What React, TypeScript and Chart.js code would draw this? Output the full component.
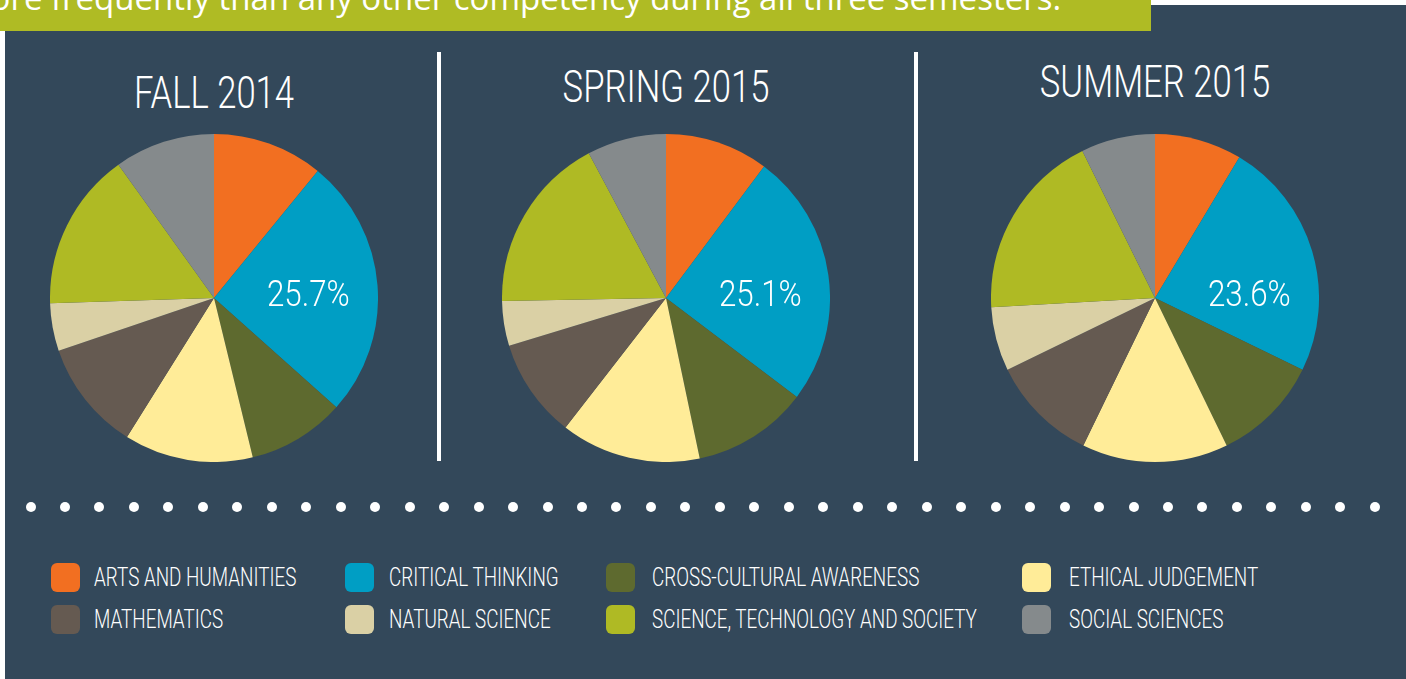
import React, { useEffect, useRef } from "react";
import { Chart, registerables } from "chart.js";

Chart.register(...registerables);

// ---------- data ----------
const categories = [
  "ARTS AND HUMANITIES",
  "CRITICAL THINKING",
  "CROSS-CULTURAL AWARENESS",
  "ETHICAL JUDGEMENT",
  "MATHEMATICS",
  "NATURAL SCIENCE",
  "SCIENCE, TECHNOLOGY AND SOCIETY",
  "SOCIAL SCIENCES",
];
const fall2014 = [10.9, 25.7, 9.6, 12.7, 10.9, 4.7, 15.6, 9.9];
const spring2015 = [10.2, 25.1, 11.4, 13.8, 9.8, 4.4, 17.5, 7.8];
const summer2015 = [8.6, 23.6, 10.6, 14.4, 10.6, 6.3, 18.6, 7.3];
const semesterTitles = ["FALL 2014", "SPRING 2015", "SUMMER 2015"];
const headline = "more frequently than any other competency during all three semesters.";
const labelIndex = 1; // critical thinking share is printed on the pie

// ---------- styles ----------
const colors = [
  "#F26F21",
  "#009EC4",
  "#5E6A2F",
  "#FFEC98",
  "#655A51",
  "#DAD0A5",
  "#AFBA24",
  "#858A8C",
];
const BG = "#33485A";
const BANNER = "#AFBB24";
const NARROW = 'Roboto, "DejaVu Sans Condensed", sans-serif';

const pieCenters = [
  { cx: 214, cy: 298 },
  { cx: 666, cy: 298 },
  { cx: 1155, cy: 298 },
];
const titleBaselines = [107.7, 101.7, 96.7];
const RADIUS = 164;

const labelPlugin = {
  id: "critLabel",
  afterDatasetsDraw(chart: any) {
    const meta = chart.getDatasetMeta(0);
    const arc = meta.data[labelIndex];
    if (!arc) return;
    const p = arc.getProps(["x", "y", "outerRadius"], true);
    const v = chart.data.datasets[0].data[labelIndex] as number;
    const ctx = chart.ctx;
    ctx.save();
    ctx.translate(p.x + p.outerRadius * 0.575, p.y + 8);
    ctx.scale(0.87, 1);
    ctx.font = `300 36px ${NARROW}`;
    ctx.fillStyle = "#ffffff";
    ctx.textAlign = "center";
    ctx.textBaseline = "alphabetic";
    ctx.fillText(v.toFixed(1) + "%", 0, 0);
    ctx.restore();
  },
};

function Pie({ values, cx, cy }: { values: number[]; cx: number; cy: number }) {
  const ref = useRef<HTMLCanvasElement | null>(null);
  useEffect(() => {
    if (!ref.current) return;
    const chart = new Chart(ref.current, {
      type: "pie",
      data: {
        labels: categories,
        datasets: [
          {
            data: values,
            backgroundColor: colors,
            borderWidth: 0,
          },
        ],
      },
      options: {
        responsive: false,
        maintainAspectRatio: false,
        animation: false,
        layout: { padding: 0 },
        plugins: {
          legend: { display: false },
          tooltip: { enabled: false },
        },
        events: [],
      },
      plugins: [labelPlugin],
    });
    return () => chart.destroy();
  }, [values]);
  const size = RADIUS * 2;
  return (
    <canvas
      ref={ref}
      width={size}
      height={size}
      style={{ position: "absolute", left: cx - RADIUS, top: cy - RADIUS, width: size, height: size }}
    />
  );
}

export default function App() {
  const series = [fall2014, spring2015, summer2015];
  const dots = Array.from({ length: 40 }, (_, i) => i);
  return (
    <div
      style={{
        position: "absolute",
        left: 0,
        top: 0,
        width: 1406,
        height: 679,
        background: "#ffffff",
        overflow: "hidden",
      }}
    >
      <div style={{ position: "absolute", left: 5, top: 5, right: 0, bottom: 0, background: BG }} />
      <div
        style={{
          position: "absolute",
          left: 0,
          top: 0,
          width: 1151,
          height: 31,
          background: BANNER,
          overflow: "hidden",
        }}
      >
        <div
          style={{
            position: "absolute",
            left: -40,
            top: -19,
            whiteSpace: "nowrap",
            fontFamily: '"Open Sans", sans-serif',
            fontSize: 33,
            lineHeight: "33px",
            color: "#ffffff",
          }}
        >
          {headline}
        </div>
      </div>

      {semesterTitles.map((t, i) => (
        <div
          key={t}
          style={{
            position: "absolute",
            left: pieCenters[i].cx - 200,
            width: 400,
            top: titleBaselines[i] - 45 * 0.8415,
            textAlign: "center",
            fontFamily: NARROW,
            fontWeight: 300,
            fontSize: 45,
            lineHeight: "45px",
            color: "#ffffff",
            transform: "scaleX(0.77)",
            transformOrigin: "center",
            whiteSpace: "nowrap",
          }}
        >
          {t}
        </div>
      ))}

      <div style={{ position: "absolute", left: 437, top: 52, width: 4, height: 409, background: "#ffffff" }} />
      <div style={{ position: "absolute", left: 914, top: 52, width: 4, height: 409, background: "#ffffff" }} />

      {series.map((s, i) => (
        <Pie key={i} values={s} cx={pieCenters[i].cx} cy={pieCenters[i].cy} />
      ))}

      {dots.map((i) => (
        <div
          key={i}
          style={{
            position: "absolute",
            left: 30.5 + i * 34.47 - 5,
            top: 506.5 - 5,
            width: 10,
            height: 10,
            borderRadius: "50%",
            background: "#ffffff",
          }}
        />
      ))}

      {categories.map((c, i) => {
        const col = i % 4;
        const row = Math.floor(i / 4);
        const swatchX = [51, 345, 606, 1022][col];
        const textX = [94, 389, 652, 1069][col];
        const swatchY = [563, 605][row];
        const baseline = [586, 628][row];
        return (
          <React.Fragment key={c}>
            <div
              style={{
                position: "absolute",
                left: swatchX,
                top: swatchY,
                width: 29,
                height: 29,
                borderRadius: 6,
                background: colors[i],
              }}
            />
            <div
              style={{
                position: "absolute",
                left: textX,
                top: baseline - 26 * 0.8415,
                fontFamily: NARROW,
                fontWeight: 300,
                fontSize: 26,
                lineHeight: "26px",
                color: "#ffffff",
                whiteSpace: "nowrap",
                transform: "scaleX(0.725)",
                transformOrigin: "left",
              }}
            >
              {c}
            </div>
          </React.Fragment>
        );
      })}
    </div>
  );
}
